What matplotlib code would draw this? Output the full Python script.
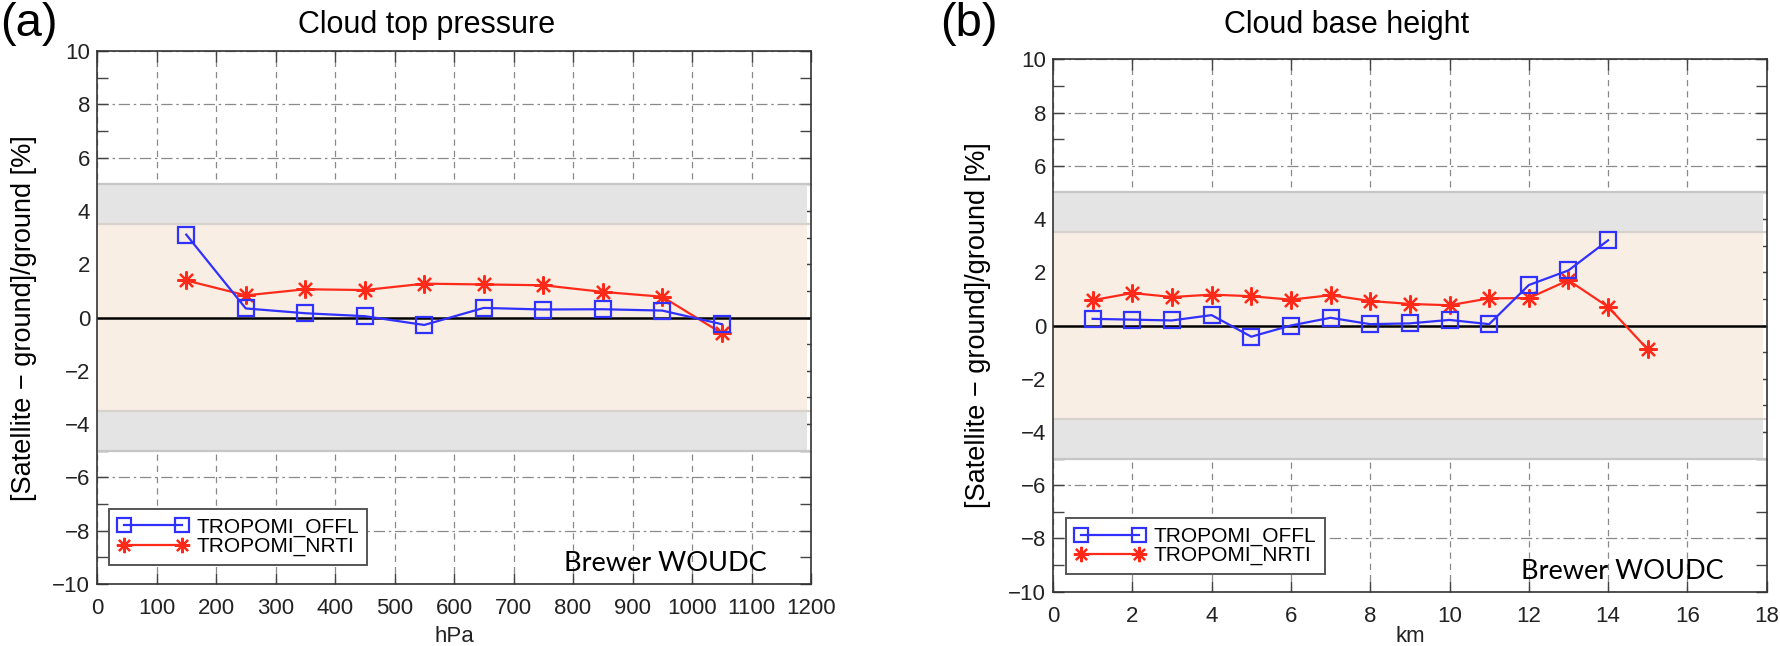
import matplotlib
matplotlib.use("Agg")
import matplotlib.pyplot as plt
from matplotlib.ticker import MultipleLocator
import numpy as np

# ---------------- data ----------------
ctp_x = [150, 250, 350, 450, 550, 650, 750, 850, 950, 1050]
ctp_offl = [3.11, 0.34, 0.16, 0.05, -0.28, 0.36, 0.30, 0.31, 0.26, -0.25]
ctp_nrti = [1.39, 0.83, 1.06, 1.03, 1.27, 1.24, 1.21, 0.96, 0.78, -0.59]

cbh_x_offl = [1, 2, 3, 4, 5, 6, 7, 8, 9, 10, 11, 12, 13, 14]
cbh_offl = [0.25, 0.22, 0.19, 0.39, -0.42, 0.0, 0.29, 0.05, 0.08, 0.21, 0.05, 1.52, 2.07, 3.20]
cbh_x_nrti = [1, 2, 3, 4, 5, 6, 7, 8, 9, 10, 11, 12, 13, 14, 15]
cbh_nrti = [0.95, 1.22, 1.07, 1.16, 1.10, 0.97, 1.14, 0.92, 0.81, 0.76, 1.02, 1.03, 1.70, 0.70, -0.90]

series_labels = ["TROPOMI_OFFL", "TROPOMI_NRTI"]
panel_titles = ["Cloud top pressure", "Cloud base height"]
panel_tags = ["(a)", "(b)"]
x_labels = ["hPa", "km"]
y_label = "[Satellite \u2212 ground]/ground [%]"
note = "Brewer WOUDC"

outer_band = 5.0
inner_band = 3.5

# ---------------- style ----------------
plt.rcParams["font.family"] = ["Liberation Sans", "DejaVu Sans"]
BLUE = "#3030ff"
RED = "#ff2a1a"
W, H = 1780, 646

fig = plt.figure(figsize=(W / 100, H / 100), dpi=100)

ax_boxes = [
    (97, 51, 811, 584),
    (1053, 59.3, 1766.7, 591.7),
]


def make_ax(box):
    l, t, r, b = box
    return fig.add_axes([l / W, 1 - b / H, (r - l) / W, (b - t) / H])


axA = make_ax(ax_boxes[0])
axB = make_ax(ax_boxes[1])


def style_axes(ax, xmax, xstep):
    ax.set_xlim(0, xmax)
    ax.set_ylim(-10, 10)
    ax.xaxis.set_major_locator(MultipleLocator(xstep))
    ax.yaxis.set_major_locator(MultipleLocator(2))
    ax.yaxis.set_minor_locator(MultipleLocator(1))
    ax.set_axisbelow(True)
    ax.xaxis.grid(True, linestyle=(0, (5, 4)), color="#8a8a8a", lw=0.9)
    ax.yaxis.grid(True, linestyle=(0, (9, 3, 2, 3)), color="#8a8a8a", lw=0.9)
    ax.tick_params(which="both", direction="in", top=True, right=True,
                   length=8, width=1.0, color="#444444")
    ax.tick_params(axis="x", labelsize=16, pad=10, labelcolor="#222222")
    ax.tick_params(axis="y", labelsize=16, pad=5, labelcolor="#222222")
    for s in ax.spines.values():
        s.set_color("#333333")
        s.set_linewidth(1.2)
    # bands
    ax.axhspan(inner_band, outer_band, xmax=0.995, color="#e4e4e4", zorder=1, lw=0)
    ax.axhspan(-outer_band, -inner_band, xmax=0.995, color="#e4e4e4", zorder=1, lw=0)
    ax.axhspan(-inner_band, inner_band, xmax=0.995, color="#f9eee4", zorder=1, lw=0)
    for yv in (outer_band, -outer_band):
        ax.axhline(yv, color="#c6c6c6", lw=1.6, zorder=1.5)
    for yv in (inner_band, -inner_band):
        ax.axhline(yv, color="#d8d2cc", lw=1.6, zorder=1.5)
    ax.axhline(0, color="black", lw=1.8, zorder=2)


style_axes(axA, 1200, 100)
style_axes(axB, 18, 2)

ast = (8, 2, 0)

axA.plot(ctp_x, ctp_offl, color=BLUE, lw=1.6, marker="s", ms=12,
         mfc="none", mec=BLUE, mew=1.6, zorder=4, label=series_labels[0])
axA.plot(ctp_x, ctp_nrti, color=RED, lw=1.6, marker=ast, ms=13,
         mec=RED, mew=1.6, zorder=3, label=series_labels[1])
axB.plot(cbh_x_offl, cbh_offl, color=BLUE, lw=1.6, marker="s", ms=12,
         mfc="none", mec=BLUE, mew=1.6, zorder=4, label=series_labels[0])
axB.plot(cbh_x_nrti, cbh_nrti, color=RED, lw=1.6, marker=ast, ms=13,
         mec=RED, mew=1.6, zorder=3, label=series_labels[1])

for ax, anchor in ((axA, (0.0167, 0.14)), (axB, (0.0183, 0.1375))):
    leg = ax.legend(loc="upper left", bbox_to_anchor=anchor, borderaxespad=0,
                    fontsize=15, handlelength=3.4, handletextpad=0.4,
                    labelspacing=0.0, borderpad=0.4, fancybox=False,
                    edgecolor="#555555", framealpha=1, numpoints=2,
                    markerscale=0.85)
    leg.get_frame().set_linewidth(1.4)
    leg.set_zorder(6)

axA.text(785, -9.51, note, family=["Lato", "DejaVu Sans"], fontsize=19.5,
         va="baseline", ha="left", zorder=6)
axB.text(11.8, -9.52, note, family=["Lato", "DejaVu Sans"], fontsize=19.5,
         va="baseline", ha="left", zorder=6)

# titles & tags
fig.text(298 / W, 1 - 33 / H, panel_titles[0], fontsize=22, va="baseline", ha="left")
fig.text(1224 / W, 1 - 33 / H, panel_titles[1], fontsize=22, va="baseline", ha="left")
fig.text(0 / W, 1 - 36 / H, panel_tags[0], fontsize=34, va="baseline", ha="left")
fig.text(940 / W, 1 - 36 / H, panel_tags[1], fontsize=34, va="baseline", ha="left")

# axis labels
fig.text(454 / W, 1 - 642 / H, x_labels[0], fontsize=16, va="baseline", ha="center", color="#222222")
fig.text(1410 / W, 1 - 642 / H, x_labels[1], fontsize=16, va="baseline", ha="center", color="#222222")
fig.text(23.6 / W, 1 - 318 / H, y_label, fontsize=19.5, rotation=90, va="center", ha="center")
fig.text(978 / W, 1 - 325.5 / H, y_label, fontsize=19.5, rotation=90, va="center", ha="center")

fig.savefig("out.png", dpi=100)
